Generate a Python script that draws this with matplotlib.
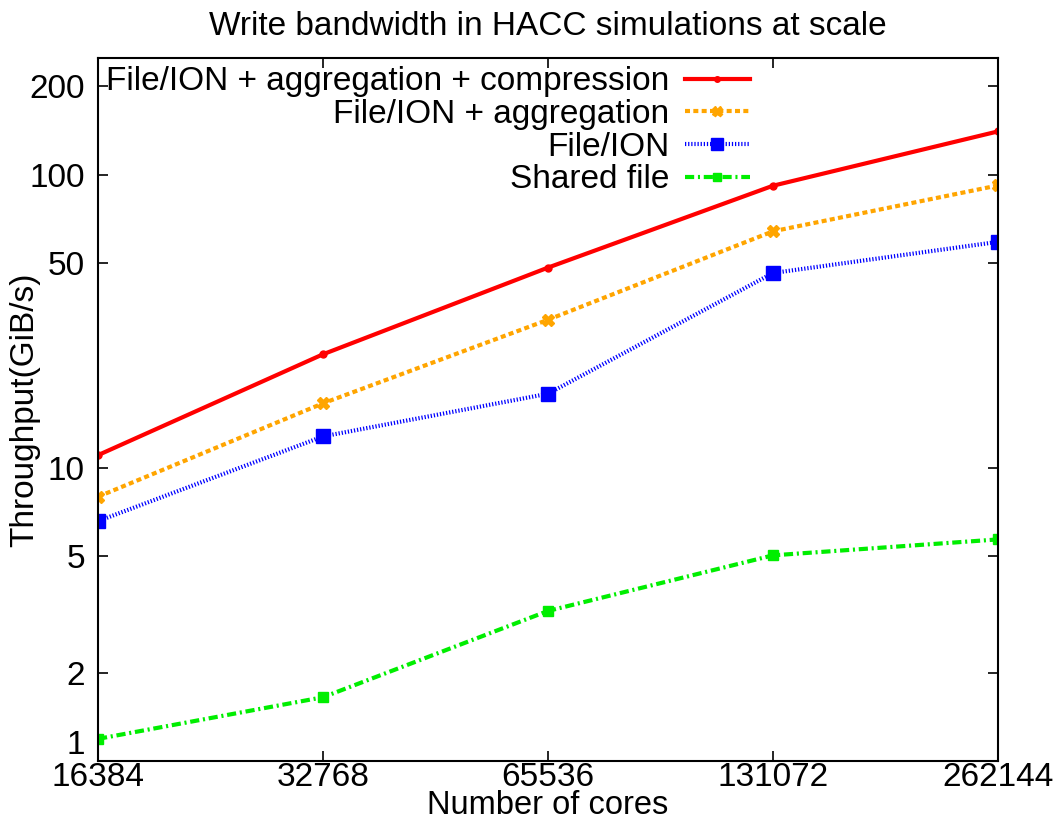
import numpy as np
import matplotlib
matplotlib.use('Agg')
import matplotlib.pyplot as plt
import matplotlib.ticker as mticker

plt.rcParams['font.family'] = ['Liberation Sans', 'DejaVu Sans']

cores = [16384, 32768, 65536, 131072, 262144]

compression = [11.05, 24.4, 48.2, 91.7, 140.5]
aggregation = [7.97, 16.6, 32.0, 64.1, 91.9]
file_ion = [6.58, 12.8, 17.9, 46.2, 59.0]
shared_file = [1.19, 1.65, 3.25, 5.03, 5.70]

labels = ['File/ION + aggregation + compression', 'File/ION + aggregation',
          'File/ION', 'Shared file']
y_ticks = [1, 2, 5, 10, 50, 100, 200]

fig = plt.figure(figsize=(10.61, 8.22), dpi=100)
ax = fig.add_axes([0.0924, 0.0742, 0.8482, 0.8552])

ax.plot(cores, compression, color='#ff0000', lw=3.0, ls='-',
        marker='o', ms=5, label=labels[0])
ax.plot(cores, aggregation, color='#ffa500', lw=3.0, ls=(0, (1.2, 0.8)),
        marker='X', ms=9, label=labels[1])
ax.plot(cores, file_ion, color='#0000ff', lw=3.0, ls=(0, (0.3, 0.45)),
        marker='s', ms=10, label=labels[2])
ax.plot(cores, shared_file, color='#00ee00', lw=3.0, ls=(0, (2.2, 0.9, 0.5, 0.9)),
        marker='s', ms=7, label=labels[3])

ax.set_xscale('log', base=2)
ax.set_yscale('log')
ax.set_xlim(cores[0], cores[-1])
ax.set_ylim(1, 250)

ax.set_xticks(cores)
ax.xaxis.set_major_formatter(mticker.FuncFormatter(lambda v, p: '%d' % v))
ax.xaxis.set_minor_locator(mticker.NullLocator())
ax.set_yticks(y_ticks)
ax.yaxis.set_major_formatter(mticker.FuncFormatter(lambda v, p: '%g' % v))
ax.yaxis.set_minor_locator(mticker.NullLocator())

ax.tick_params(direction='in', length=7, width=1.2, top=True, right=True,
               labelsize=24)
ax.tick_params(axis='x', pad=0.5)
ax.tick_params(axis='y', pad=9.5)
for lab in ax.get_yticklabels():
    if lab.get_text() == '1':
        lab.set_va('bottom')
for s in ax.spines.values():
    s.set_linewidth(1.5)

ax.set_title('Write bandwidth in HACC simulations at scale', fontsize=24, pad=16.5)
ax.set_xlabel('Number of cores', fontsize=23.5, labelpad=-2)
ax.set_ylabel('Throughput(GiB/s)', fontsize=24)
ax.yaxis.set_label_coords(-0.064, 0.5)

ax.legend(loc='upper left', bbox_to_anchor=(0.0, 1.0), markerfirst=False,
          frameon=False, fontsize=24, handlelength=1.95, handletextpad=0.45,
          labelspacing=0.05, borderaxespad=0.05, borderpad=0.2, markerscale=0.8)

fig.savefig('out.png', dpi=100)
